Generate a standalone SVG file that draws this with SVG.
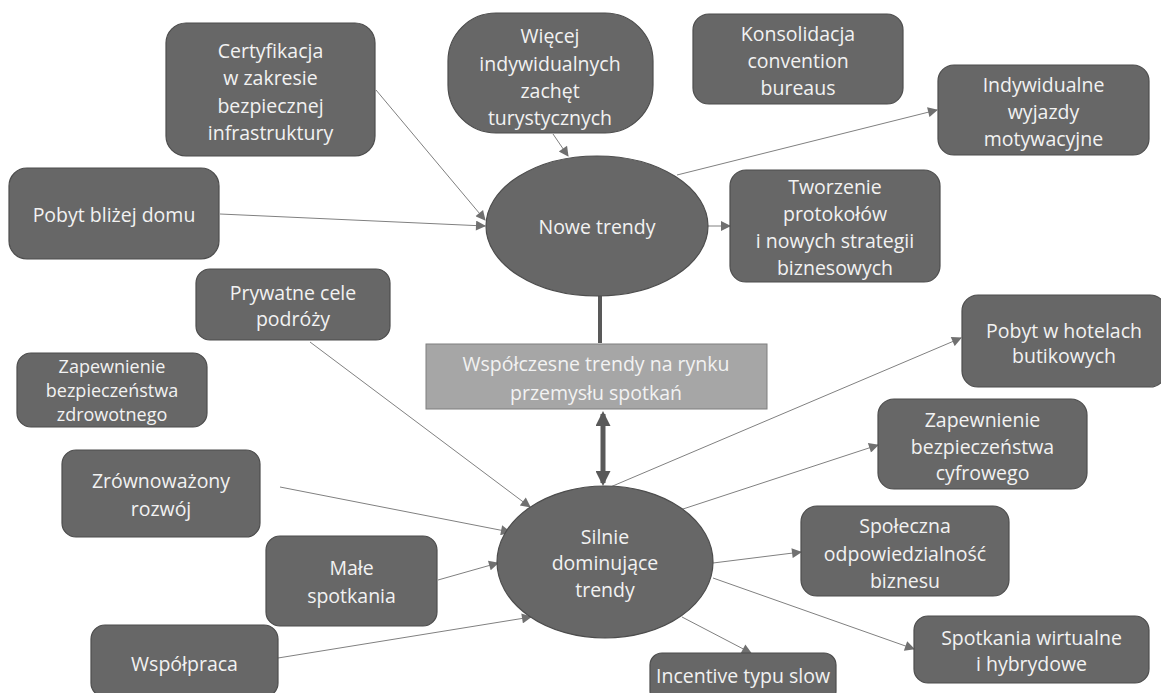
<svg xmlns="http://www.w3.org/2000/svg" width="1161" height="693" viewBox="0 0 1161 693">
<defs>
<style>
.n{fill:#676767;stroke:#4d4d4d;stroke-width:1.2}
.t{font-family:"Open Sans","Liberation Sans",sans-serif;font-size:19.5px;fill:#f2f2f2;text-anchor:middle;dominant-baseline:central}
.s{font-size:18px}
.c{stroke:#808080;stroke-width:1;fill:none;marker-end:url(#a)}
</style>
<marker id="a" viewBox="0 0 10 10" refX="9" refY="5" markerWidth="12" markerHeight="10" markerUnits="userSpaceOnUse" orient="auto"><path d="M0,0 L10,5 L0,10 z" fill="#707070"/></marker>
<marker id="b" viewBox="0 0 10 10" refX="8" refY="5" markerWidth="4" markerHeight="3" orient="auto-start-reverse"><path d="M0,0 L10,5 L0,10 z" fill="#595959"/></marker>
</defs>
<rect width="1161" height="693" fill="#ffffff"/>
<g id="connectors">
<line class="c" x1="376" y1="90" x2="485" y2="220"/>
<line class="c" x1="220" y1="214" x2="485" y2="226"/>
<line class="c" x1="553" y1="134" x2="568" y2="156"/>
<line class="c" x1="677" y1="175" x2="937" y2="110"/>
<line class="c" x1="708" y1="226" x2="730" y2="226"/>
<line x1="600" y1="296" x2="600" y2="343" stroke="#595959" stroke-width="4"/>
<line x1="603" y1="414" x2="603" y2="483" stroke="#595959" stroke-width="5" marker-start="url(#b)" marker-end="url(#b)"/>
<line class="c" x1="310" y1="342" x2="530" y2="507"/>
<line class="c" x1="280" y1="487" x2="510" y2="532"/>
<line class="c" x1="438" y1="580" x2="498" y2="563"/>
<line class="c" x1="278" y1="658" x2="531" y2="617"/>
<line class="c" x1="608" y1="488" x2="961" y2="338"/>
<line class="c" x1="683" y1="509" x2="878" y2="445"/>
<line class="c" x1="713" y1="563" x2="801" y2="552"/>
<line class="c" x1="713" y1="578" x2="914" y2="649"/>
<line class="c" x1="682" y1="617" x2="751" y2="653"/>
</g>
<g id="n-cert"><rect class="n" x="166" y="23" width="209" height="133" rx="20"/><text class="t" x="270.5" y="50">Certyfikacja</text><text class="t" x="270.5" y="77">w zakresie</text><text class="t" x="270.5" y="105">bezpiecznej</text><text class="t" x="270.5" y="132">infrastruktury</text></g>
<g id="n-pobyt"><rect class="n" x="9" y="168" width="210" height="91" rx="18"/><text class="t" x="114" y="214">Pobyt bliżej domu</text></g>
<g id="n-wiecej"><rect class="n" x="448" y="13" width="205" height="120" rx="48"/><text class="t" x="550" y="35">Więcej</text><text class="t" x="550" y="63">indywidualnych</text><text class="t" x="550" y="90">zachęt</text><text class="t" x="550" y="117">turystycznych</text></g>
<g id="n-konsol"><rect class="n" x="693" y="14" width="210" height="90" rx="16"/><text class="t" x="798" y="33">Konsolidacja</text><text class="t" x="798" y="60">convention</text><text class="t" x="798" y="87">bureaus</text></g>
<g id="n-indyw"><rect class="n" x="938" y="65" width="211" height="90" rx="16"/><text class="t" x="1043.5" y="84">Indywidualne</text><text class="t" x="1043.5" y="111">wyjazdy</text><text class="t" x="1043.5" y="138">motywacyjne</text></g>
<g id="n-tworz"><rect class="n" x="730" y="170" width="210" height="112" rx="16"/><text class="t" x="835" y="186">Tworzenie</text><text class="t" x="835" y="213">protokołów</text><text class="t" x="835" y="240">i nowych strategii</text><text class="t" x="835" y="267">biznesowych</text></g>
<g id="n-nowe"><ellipse class="n" cx="597" cy="226" rx="111" ry="70"/><text class="t" x="597" y="226">Nowe trendy</text></g>
<g id="n-center"><rect x="426" y="344" width="341" height="65" fill="#a6a6a6" stroke="#7f7f7f" stroke-width="1"/><text class="t" x="596" y="363">Współczesne trendy na rynku</text><text class="t" x="596" y="392">przemysłu spotkań</text></g>
<g id="n-pryw"><rect class="n" x="196" y="269" width="194" height="71" rx="14"/><text class="t" x="293" y="292">Prywatne cele</text><text class="t" x="293" y="318">podróży</text></g>
<g id="n-zdrow"><rect class="n" x="17" y="353" width="190" height="74" rx="14"/><text class="t s" x="112" y="366">Zapewnienie</text><text class="t s" x="112" y="390">bezpieczeństwa</text><text class="t s" x="112" y="414">zdrowotnego</text></g>
<g id="n-zrow"><rect class="n" x="62" y="450" width="198" height="87" rx="14"/><text class="t" x="161" y="480">Zrównoważony</text><text class="t" x="161" y="508">rozwój</text></g>
<g id="n-male"><rect class="n" x="266" y="536" width="171" height="90" rx="14"/><text class="t" x="351.5" y="567">Małe</text><text class="t" x="351.5" y="595">spotkania</text></g>
<g id="n-wspol"><rect class="n" x="91" y="625" width="187" height="72" rx="14"/><text class="t" x="184.5" y="663">Współpraca</text></g>
<g id="n-silnie"><ellipse class="n" cx="605" cy="562" rx="108" ry="76"/><text class="t" x="605" y="536">Silnie</text><text class="t" x="605" y="562">dominujące</text><text class="t" x="605" y="589">trendy</text></g>
<g id="n-hotel"><rect class="n" x="962" y="295" width="204" height="92" rx="16"/><text class="t" x="1064" y="330">Pobyt w hotelach</text><text class="t" x="1064" y="355">butikowych</text></g>
<g id="n-cyfr"><rect class="n" x="878" y="399" width="209" height="90" rx="16"/><text class="t" x="982.5" y="419">Zapewnienie</text><text class="t" x="982.5" y="446">bezpieczeństwa</text><text class="t" x="982.5" y="472">cyfrowego</text></g>
<g id="n-spol"><rect class="n" x="801" y="506" width="208" height="90" rx="16"/><text class="t" x="905" y="525">Społeczna</text><text class="t" x="905" y="553">odpowiedzialność</text><text class="t" x="905" y="580">biznesu</text></g>
<g id="n-wirt"><rect class="n" x="914" y="616" width="235" height="67" rx="14"/><text class="t" x="1031.5" y="637">Spotkania wirtualne</text><text class="t" x="1031.5" y="663">i hybrydowe</text></g>
<g id="n-incent"><rect class="n" x="650" y="653" width="186" height="50" rx="12"/><text class="t" x="743" y="675">Incentive typu slow</text></g>
</svg>
